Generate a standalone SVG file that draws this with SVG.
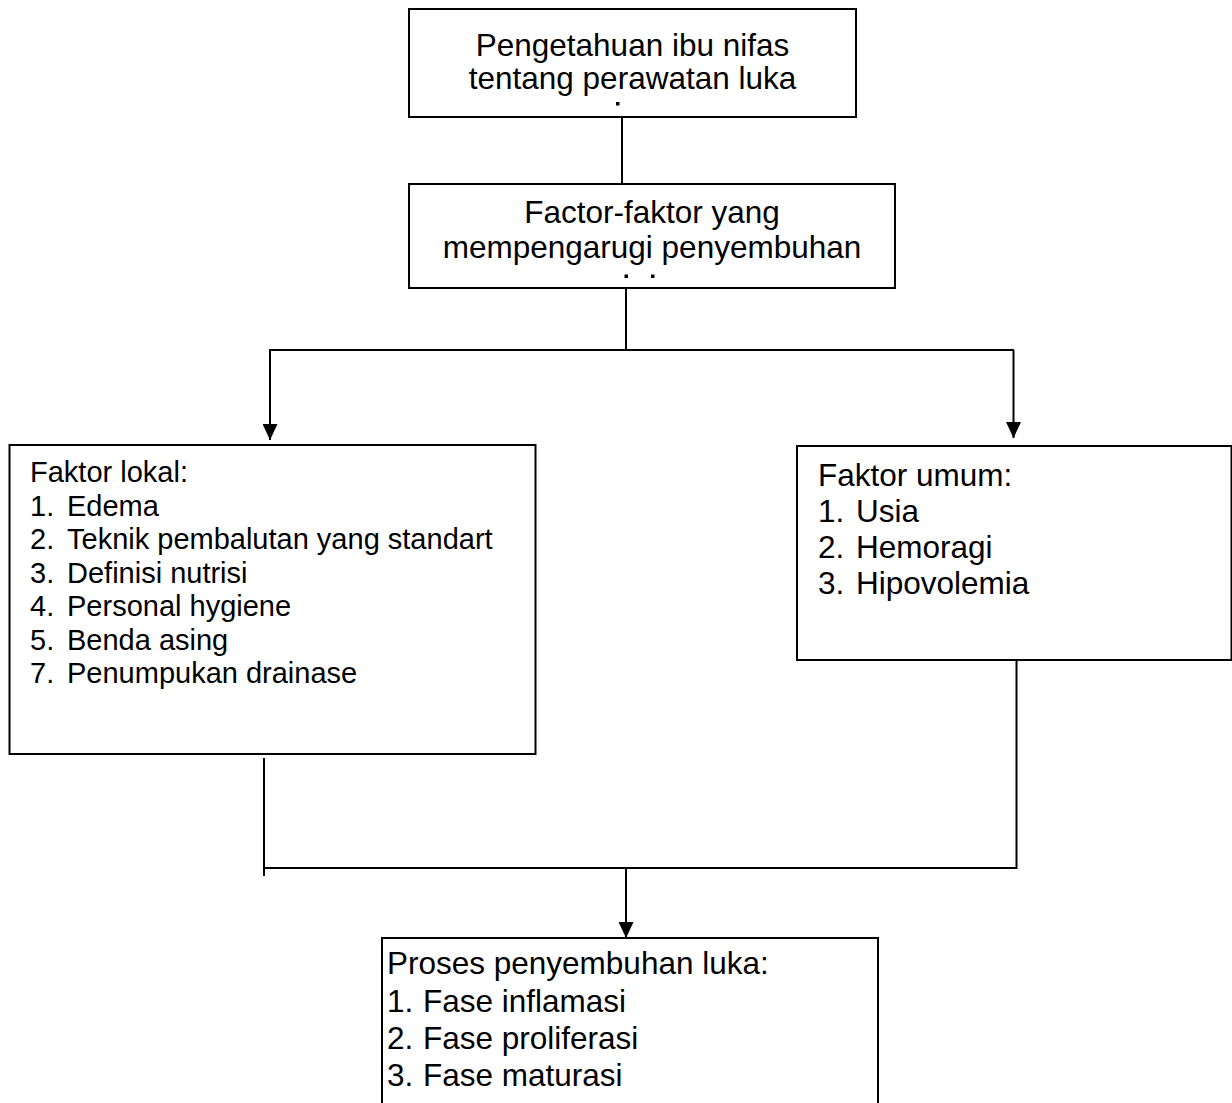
<svg xmlns="http://www.w3.org/2000/svg" width="1232" height="1103" viewBox="0 0 1232 1103">
  <style>
    .box { fill: #ffffff; stroke: #000000; stroke-width: 2; }
    .t { font-family: "Liberation Sans", Arial, sans-serif; fill: #000000; }
    .big { font-size: 31.5px; }
    .small { font-size: 29px; }
    .mid { text-anchor: middle; }
    .line { fill: none; stroke: #000000; stroke-width: 2; }
    .dot { fill: #000000; }
  </style>
  <defs>
    <marker id="arrow" viewBox="0 0 16 15" refX="16" refY="7.5" markerWidth="16" markerHeight="15" markerUnits="userSpaceOnUse" orient="auto">
      <path d="M0,0 L16,7.5 L0,15 Z" fill="#000000"/>
    </marker>
  </defs>
  <rect x="0" y="0" width="1232" height="1103" fill="#ffffff"/>

  <g id="connectors">
    <line class="line" x1="622" y1="117" x2="622" y2="184"/>
    <line class="line" x1="626" y1="288" x2="626" y2="350"/>
    <line class="line" x1="269" y1="350" x2="1014" y2="350"/>
    <line class="line" x1="270" y1="350" x2="270" y2="440" marker-end="url(#arrow)"/>
    <line class="line" x1="1013.5" y1="350" x2="1013.5" y2="438" marker-end="url(#arrow)"/>
    <line class="line" x1="264" y1="758" x2="264" y2="876"/>
    <line class="line" x1="1016.5" y1="652" x2="1016.5" y2="869"/>
    <line class="line" x1="263" y1="868" x2="1017" y2="868"/>
    <line class="line" x1="626" y1="868" x2="626" y2="938" marker-end="url(#arrow)"/>
  </g>

  <g id="node-pengetahuan">
    <rect class="box" x="409" y="9" width="447" height="108"/>
    <text class="t big mid" x="632.5" y="56">Pengetahuan ibu nifas</text>
    <text class="t big mid" x="632.5" y="89">tentang perawatan luka</text>
    <rect class="dot" x="616" y="102" width="3.5" height="3.5"/>
  </g>

  <g id="node-faktor">
    <rect class="box" x="409" y="184" width="486" height="104"/>
    <text class="t big mid" x="652" y="223">Factor-faktor yang</text>
    <text class="t big mid" x="652" y="258">mempengarugi penyembuhan</text>
    <rect class="dot" x="624.5" y="274.5" width="3.5" height="3.5"/>
    <rect class="dot" x="651" y="274.5" width="3.5" height="3.5"/>
  </g>

  <g id="node-lokal">
    <rect class="box" x="9.5" y="445" width="526" height="309"/>
    <text class="t small" x="30" y="482">Faktor lokal:</text>
    <text class="t small" x="30" y="515.5">1.</text><text class="t small" x="67" y="515.5">Edema</text>
    <text class="t small" x="30" y="549">2.</text><text class="t small" x="67" y="549">Teknik pembalutan yang standart</text>
    <text class="t small" x="30" y="582.5">3.</text><text class="t small" x="67" y="582.5">Definisi nutrisi</text>
    <text class="t small" x="30" y="616">4.</text><text class="t small" x="67" y="616">Personal hygiene</text>
    <text class="t small" x="30" y="649.5">5.</text><text class="t small" x="67" y="649.5">Benda asing</text>
    <text class="t small" x="30" y="683">7.</text><text class="t small" x="67" y="683">Penumpukan drainase</text>
  </g>

  <g id="node-umum">
    <rect class="box" x="797" y="446" width="434.5" height="214"/>
    <text class="t big" x="818" y="485.5">Faktor umum:</text>
    <text class="t big" x="818" y="521.5">1.</text><text class="t big" x="856" y="521.5">Usia</text>
    <text class="t big" x="818" y="557.5">2.</text><text class="t big" x="856" y="557.5">Hemoragi</text>
    <text class="t big" x="818" y="594">3.</text><text class="t big" x="856" y="594">Hipovolemia</text>
  </g>

  <g id="node-proses">
    <rect class="box" x="382" y="938" width="496" height="180"/>
    <text class="t big" x="387" y="974">Proses penyembuhan luka:</text>
    <text class="t big" x="387" y="1011.5">1.</text><text class="t big" x="423" y="1011.5">Fase inflamasi</text>
    <text class="t big" x="387" y="1048.5">2.</text><text class="t big" x="423" y="1048.5">Fase proliferasi</text>
    <text class="t big" x="387" y="1085.5">3.</text><text class="t big" x="423" y="1085.5">Fase maturasi</text>
  </g>
</svg>
